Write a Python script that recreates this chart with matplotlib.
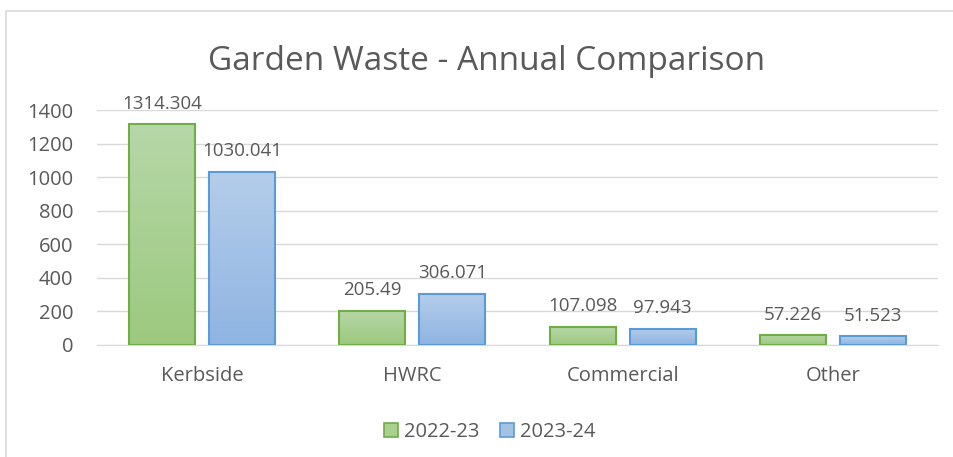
import matplotlib
matplotlib.use("Agg")
import matplotlib.pyplot as plt
import numpy as np
from matplotlib.patches import Rectangle
from matplotlib.colors import LinearSegmentedColormap

categories = ["Kerbside", "HWRC", "Commercial", "Other"]
series_names = ["2022-23", "2023-24"]
values_2022 = [1314.304, 205.49, 107.098, 57.226]
values_2023 = [1030.041, 306.071, 97.943, 51.523]
value_labels_2022 = ["1314.304", "205.49", "107.098", "57.226"]
value_labels_2023 = ["1030.041", "306.071", "97.943", "51.523"]
yticks = [0, 200, 400, 600, 800, 1000, 1200, 1400]

plt.rcParams['font.family'] = ['Open Sans', 'DejaVu Sans']
txt = '#595959'

fig = plt.figure(figsize=(9.54, 4.57), dpi=100)
ax = fig.add_axes([97/954, 1-345/457, (938-97)/954, (345-110)/457])

# border of chart area
fig.patches.append(Rectangle((6/954, -0.1), 1.2, 1 - 11/457 + 0.1, transform=fig.transFigure,
                             fill=False, edgecolor='#d9d9d9', linewidth=1.2))

x = np.arange(len(categories))
w = 0.314
off = 0.19
styles = [
    (values_2022, value_labels_2022, -off, '#b6d7a8', '#9cc97e', '#70ad47'),
    (values_2023, value_labels_2023, off, '#b4cdea', '#8fb4e2', '#5b9bd5'),
]
ax.set_xlim(-0.5, 3.5)
ax.set_ylim(0, 1400)
for vals, labs, o, ctop, cbot, edge in styles:
    cmap = LinearSegmentedColormap.from_list('g', [cbot, ctop])
    grad = np.linspace(0, 1, 256).reshape(-1, 1)
    for xi, v, lab in zip(x, vals, labs):
        x0 = xi + o - w/2
        ax.imshow(grad, cmap=cmap, origin='lower', aspect='auto',
                  extent=(x0, x0 + w, 0, v), zorder=2)
        ax.add_patch(Rectangle((x0, 0), w, v, fill=False, edgecolor=edge, linewidth=1.5, zorder=3))
        ax.text(xi + o, v + 70, lab, ha='center', va='bottom', fontsize=13.5, color=txt, zorder=4)

ax.set_xlim(-0.5, 3.5)
ax.set_ylim(0, 1400)
ax.set_yticks(yticks)
ax.set_yticklabels([str(t) for t in yticks], fontsize=14.5, color=txt)
ax.set_xticks(x)
ax.set_xticklabels(categories, fontsize=14.5, color=txt)
ax.tick_params(length=0, axis='both')
ax.tick_params(axis='y', pad=17)
ax.tick_params(axis='x', pad=15)
ax.grid(axis='y', color='#d9d9d9', linewidth=1)
ax.set_axisbelow(True)
for s in ['top', 'right', 'left']:
    ax.spines[s].set_visible(False)
ax.spines['bottom'].set_color('#d9d9d9')
ax.spines['bottom'].set_zorder(1)

fig.text(487/954, 1-61/457, "Garden Waste - Annual Comparison", ha='center', va='center',
         fontsize=24, color=txt)

handles = [Rectangle((0, 0), 1, 1, facecolor='#a9d08e', edgecolor='#70ad47', linewidth=1.2),
           Rectangle((0, 0), 1, 1, facecolor='#a4c2e6', edgecolor='#5b9bd5', linewidth=1.2)]
fig.legend(handles, series_names, loc='center', bbox_to_anchor=(490/954, 1-432/457), ncol=2,
           frameon=False, fontsize=14.5, labelcolor=txt, handlelength=0.7, handleheight=0.7,
           handletextpad=0.3, columnspacing=1.0)

fig.savefig('out.png', dpi=100, facecolor='white')
